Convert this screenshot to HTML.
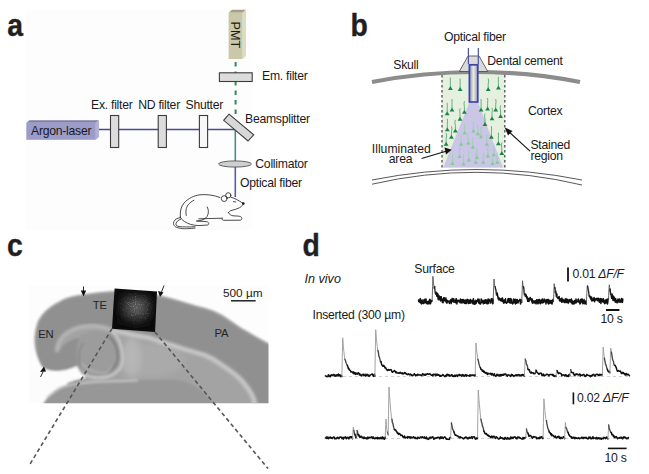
<!DOCTYPE html>
<html><head><meta charset="utf-8">
<style>
html,body{margin:0;padding:0;background:#fff;width:649px;height:474px;overflow:hidden}
svg{display:block}
text{font-family:"Liberation Sans",sans-serif;fill:#1a1a1a}
.t{font-size:12.2px;letter-spacing:-0.25px}
.lab{font-size:30.5px;font-weight:bold;fill:#231f20;stroke:#231f20;stroke-width:0.35px}
</style></head><body>
<svg width="649" height="474" viewBox="0 0 649 474">
<defs>
  <linearGradient id="fib" x1="0" x2="1" y1="0" y2="0">
    <stop offset="0" stop-color="#8a90c8"/><stop offset="0.5" stop-color="#f0ecd0"/><stop offset="1" stop-color="#8a90c8"/>
  </linearGradient>
  <radialGradient id="flu" cx="0.55" cy="0.4" r="0.55">
    <stop offset="0" stop-color="#6a6a6a"/><stop offset="0.5" stop-color="#3a3a3a"/><stop offset="1" stop-color="#0a0a0a"/>
  </radialGradient>
  <filter id="blur1"><feGaussianBlur stdDeviation="1.2"/></filter>
  <filter id="blur2"><feGaussianBlur stdDeviation="1.8"/></filter>
  <filter id="blur3"><feGaussianBlur stdDeviation="3"/></filter>
  <filter id="speck" x="0" y="0" width="1" height="1"><feTurbulence type="fractalNoise" baseFrequency="0.9" numOctaves="2" seed="4"/><feColorMatrix type="matrix" values="0 0 0 0 1  0 0 0 0 1  0 0 0 0 1  2.2 0 0 0 -1.1"/><feComposite in2="SourceGraphic" operator="in"/></filter>
  <radialGradient id="sqg" cx="0.55" cy="0.42" r="0.5"><stop offset="0" stop-color="#fff"/><stop offset="0.6" stop-color="#888"/><stop offset="1" stop-color="#000"/></radialGradient>
  <mask id="sqm" maskUnits="userSpaceOnUse" x="100" y="280" width="70" height="60"><path d="M116,291 L155,294 L153,329.5 L114,326.5 Z" fill="url(#sqg)"/></mask>
  <filter id="tex" x="0" y="0" width="1" height="1"><feTurbulence type="fractalNoise" baseFrequency="0.5 0.2" numOctaves="2" seed="8"/><feColorMatrix type="matrix" values="0 0 0 0 0.45  0 0 0 0 0.45  0 0 0 0 0.45  1.2 0 0 0 -0.45"/><feGaussianBlur stdDeviation="0.5"/></filter>
  <mask id="brainm" maskUnits="userSpaceOnUse" x="28" y="285" width="242" height="120"><path d="M82,296 C95,294 105,293 113,293 L158.3,297 C178,302 205,310 230,322 C244,331 258,339 270,346 L270,404 L215,404 C200,384 185,380 165,380 L90,381 C80,377 76,372 74,368 C62,372 50,372 43,367 C36,358 35,345 36,334 C37,318 47,306 60,302 C68,299 76,297 82,296 Z" fill="#fff"/></mask>
  <clipPath id="photo"><rect x="28.5" y="285" width="240" height="118.3"/></clipPath>
</defs>

<!-- faint backgrounds -->
<rect x="26" y="9" width="226" height="221" fill="#fdfdfd"/>

<!-- ===== Panel a ===== -->
<text class="lab" x="0" y="36" transform="translate(7.3,0) scale(0.93,1)">a</text>
<!-- laser box -->
<path d="M26.3,122.8 L29.5,120.3 L99,120.3 L95.8,122.8 Z" fill="#7e7eae"/>
<path d="M95.8,122.8 L99,120.3 L99,137 L95.8,139.8 Z" fill="#b0b0d8"/>
<rect x="26.3" y="122.8" width="69.5" height="17" fill="#9c9cca"/>
<text class="t" x="31" y="135">Argon-laser</text>
<!-- beam line -->
<line x1="99" y1="129.5" x2="235.5" y2="129.5" stroke="#4a4a9a" stroke-width="1.6"/>
<line x1="235.3" y1="129.5" x2="235.3" y2="161" stroke="#4f8a80" stroke-width="1.6"/>
<line x1="235.3" y1="166" x2="235.3" y2="197" stroke="#5a5aaa" stroke-width="1.6"/>
<!-- filters -->
<rect x="110.5" y="115.5" width="8.2" height="32" fill="#dcdcdc" stroke="#3c3c3c" stroke-width="1.1"/>
<rect x="158.2" y="115.5" width="8.2" height="32" fill="#dcdcdc" stroke="#3c3c3c" stroke-width="1.1"/>
<rect x="199.4" y="115.5" width="8.2" height="32" fill="#f8f8f8" stroke="#3c3c3c" stroke-width="1.1"/>
<text class="t" x="91" y="108.5">Ex. filter</text>
<text class="t" x="138.2" y="108.5">ND filter</text>
<text class="t" x="185.5" y="108.5">Shutter</text>
<!-- beamsplitter -->
<path d="M229,114.2 L253.7,134.8 L248,141 L223.7,120.3 Z" fill="#d8d8d8" stroke="#3c3c3c" stroke-width="1.1"/>
<text class="t" x="245" y="122.8">Beamsplitter</text>
<!-- dashed green -->
<line x1="235.6" y1="62" x2="235.6" y2="116" stroke="#2e8a5a" stroke-width="2" stroke-dasharray="4.5,5"/>
<!-- PMT -->
<path d="M228.6,12.7 L232,9.8 L246,9.8 L242.6,12.7 Z" fill="#a3a184"/>
<path d="M242.6,12.7 L246,9.8 L246,56 L242.6,59 Z" fill="#dddcc0"/>
<rect x="228.6" y="12.7" width="14" height="46.3" fill="#cac8a8"/>
<text class="t" style="font-size:12.6px;letter-spacing:0" transform="translate(230.6,21.6) rotate(90)" x="0" y="0">PMT</text>
<!-- Em filter -->
<rect x="219.4" y="72.8" width="32.8" height="8.7" fill="#dcdcdc" stroke="#3c3c3c" stroke-width="1.1"/>
<text class="t" x="262" y="79.6">Em. filter</text>
<!-- collimator -->
<ellipse cx="235" cy="164" rx="16.5" ry="3.1" fill="#cfcfcf" stroke="#555" stroke-width="0.9"/>
<text class="t" x="255.3" y="167.7">Collimator</text>
<text class="t" x="240" y="187">Optical fiber</text>
<!-- mouse -->
<g fill="none" stroke="#2a2a2a" stroke-width="0.85" stroke-linecap="round" stroke-linejoin="round">
  <path d="M180.3,217 C180,211 181,206.5 184,203 C188,198.5 194,195.5 200,194.8 C206,194.2 214,195 220,197.5"/>
  <path d="M193.9,200.3 C189,202.5 186.5,206.5 186,210 C185.8,212 185.9,214 186.2,215.5"/>
  <circle cx="224.2" cy="198.6" r="2.9"/>
  <circle cx="228.3" cy="195.3" r="2.6"/>
  <path d="M230.9,197.2 C234,198 238,200 243.2,203.4"/>
  <path d="M243,204.5 C242,206 240.5,207.5 239.5,207.7 C237,209 234.6,209.6 232,210.3 C230,210.8 229,211.5 228.4,212.7"/>
  <path d="M233.4,201.6 L235.8,202"/>
  <path d="M228.4,212.7 C229.5,214.5 231,215.5 233,215.8 C236,216 239,216 240.7,216.6 C242.3,217.5 242.3,219.5 240.5,220.2 L223.5,220.3 C222,220 221.8,219 222.3,218.2"/>
  <path d="M198.8,218.8 L222.3,218.2"/>
  <path d="M207.3,207 C208.8,210 208.9,213.5 207,216.5 C205.5,218.8 203,220 199,220.8 L196.4,221 L206.5,221.6 C208.8,222 209.5,224 207.8,225 L199,225.6 C193,225.5 188,224 184.5,221.5 C182,220 180.8,218.5 180.3,217"/>
  <path d="M180.3,217.6 C177,218 175,219.5 173.8,221.8 C172.8,224.5 174.5,227 177.9,227.8 C181,228.6 184,228.8 186.5,228.7 C190,228.6 193,228.3 195.1,228.1"/>
  <path d="M180.8,219.2 C178.3,220 176.5,221.5 176,223.5 C175.7,225.5 177,226.3 179,226.6 C183,227 189,227 195,226.8"/>
</g>
<circle cx="243.3" cy="203.5" r="1.3" fill="#111"/>

<!-- ===== Panel b ===== -->
<text class="lab" x="0" y="36" transform="translate(350.5,0) scale(0.93,1)">b</text>
<!-- stained region -->
<rect x="442" y="74" width="62.8" height="94" fill="#e6f0de"/>
<!-- cone -->
<path d="M469.3,102.4 L478,102.4 L503,167.5 L443.2,167.5 Z" fill="#c9c6e6"/>
<path d="M448.0,90.0 L450.4,86.0 L452.8,90.0Z" fill="#1a8448"/><path d="M450.4,87.0 L450.4,83.0 Q450.3,80.0 450.4,77.5" fill="none" stroke="#3a9a64" stroke-width="0.75"/>
<path d="M457.7,91.0 L460.1,87.0 L462.5,91.0Z" fill="#1a8448"/><path d="M460.1,88.0 L460.1,84.0 Q460.2,81.0 460.1,78.5" fill="none" stroke="#3a9a64" stroke-width="0.75"/>
<path d="M485.8,91.0 L488.2,87.0 L490.6,91.0Z" fill="#1a8448"/><path d="M488.2,88.0 L488.2,84.0 Q489.2,81.0 488.2,78.5" fill="none" stroke="#3a9a64" stroke-width="0.75"/>
<path d="M496.0,89.4 L498.4,85.4 L500.8,89.4Z" fill="#1a8448"/><path d="M498.4,86.4 L498.4,82.4 Q498.3,79.4 498.4,76.9" fill="none" stroke="#3a9a64" stroke-width="0.75"/>
<path d="M449.6,111.5 L452.0,107.5 L454.4,111.5Z" fill="#1a8448"/><path d="M452.0,108.5 L452.0,104.5 Q452.0,101.5 452.0,99.0" fill="none" stroke="#3a9a64" stroke-width="0.75"/>
<path d="M444.8,115.3 L447.2,111.3 L449.6,115.3Z" fill="#1a8448"/><path d="M447.2,112.3 L447.2,108.3 Q447.4,105.3 447.2,102.8" fill="none" stroke="#3a9a64" stroke-width="0.75"/>
<path d="M462.0,113.7 L464.4,109.7 L466.8,113.7Z" fill="#1a8448"/><path d="M464.4,110.7 L464.4,106.7 Q463.6,103.7 464.4,101.2" fill="none" stroke="#3a9a64" stroke-width="0.75"/>
<path d="M478.7,111.5 L481.1,107.5 L483.5,111.5Z" fill="#1a8448"/><path d="M481.1,108.5 L481.1,104.5 Q481.1,101.5 481.1,99.0" fill="none" stroke="#3a9a64" stroke-width="0.75"/>
<path d="M485.2,110.5 L487.6,106.5 L490.0,110.5Z" fill="#1a8448"/><path d="M487.6,107.5 L487.6,103.5 Q487.9,100.5 487.6,98.0" fill="none" stroke="#3a9a64" stroke-width="0.75"/>
<path d="M493.3,111.5 L495.7,107.5 L498.1,111.5Z" fill="#1a8448"/><path d="M495.7,108.5 L495.7,104.5 Q496.4,101.5 495.7,99.0" fill="none" stroke="#3a9a64" stroke-width="0.75"/>
<path d="M498.2,118.0 L500.6,114.0 L503.0,118.0Z" fill="#1a8448"/><path d="M500.6,115.0 L500.6,111.0 Q499.6,108.0 500.6,105.5" fill="none" stroke="#3a9a64" stroke-width="0.75"/>
<path d="M457.6,120.8 L460.0,116.8 L462.4,120.8Z" fill="#1a8448"/><path d="M460.0,117.8 L460.0,113.8 Q459.5,110.8 460.0,108.3" fill="none" stroke="#3a9a64" stroke-width="0.75"/>
<path d="M482.6,126.0 L485.0,122.0 L487.4,126.0Z" fill="#1a8448"/><path d="M485.0,123.0 L485.0,119.0 Q484.0,116.0 485.0,113.5" fill="none" stroke="#3a9a64" stroke-width="0.75"/>
<path d="M489.6,120.2 L492.0,116.2 L494.4,120.2Z" fill="#1a8448"/><path d="M492.0,117.2 L492.0,113.2 Q492.7,110.2 492.0,107.7" fill="none" stroke="#3a9a64" stroke-width="0.75"/>
<path d="M444.9,131.3 L447.3,127.3 L449.7,131.3Z" fill="#1a8448"/><path d="M447.3,128.3 L447.3,124.3 Q447.8,121.3 447.3,118.8" fill="none" stroke="#3a9a64" stroke-width="0.75"/>
<path d="M453.0,132.4 L455.4,128.4 L457.8,132.4Z" fill="#1a8448"/><path d="M455.4,129.4 L455.4,125.4 Q454.3,122.4 455.4,119.9" fill="none" stroke="#3a9a64" stroke-width="0.75"/>
<path d="M449.0,138.8 L451.4,134.8 L453.8,138.8Z" fill="#1a8448"/><path d="M451.4,135.8 L451.4,131.8 Q452.6,128.8 451.4,126.3" fill="none" stroke="#3a9a64" stroke-width="0.75"/>
<path d="M443.7,145.8 L446.1,141.8 L448.5,145.8Z" fill="#1a8448"/><path d="M446.1,142.8 L446.1,138.8 Q447.2,135.8 446.1,133.3" fill="none" stroke="#3a9a64" stroke-width="0.75"/>
<path d="M489.0,138.8 L491.4,134.8 L493.8,138.8Z" fill="#1a8448"/><path d="M491.4,135.8 L491.4,131.8 Q491.8,128.8 491.4,126.3" fill="none" stroke="#3a9a64" stroke-width="0.75"/>
<path d="M496.0,145.2 L498.4,141.2 L500.8,145.2Z" fill="#1a8448"/><path d="M498.4,142.2 L498.4,138.2 Q498.7,135.2 498.4,132.7" fill="none" stroke="#3a9a64" stroke-width="0.75"/>
<path d="M499.4,155.0 L501.8,151.0 L504.2,155.0Z" fill="#1a8448"/><path d="M501.8,152.0 L501.8,148.0 Q501.0,145.0 501.8,142.5" fill="none" stroke="#3a9a64" stroke-width="0.75"/>
<path d="M462.6,134.2 L464.7,130.6 L466.8,134.2Z" fill="#84ca92"/><path d="M464.7,131.2 L464.7,127.2 Q463.5,125.2 464.7,123.2" fill="none" stroke="#96d0a2" stroke-width="0.7"/>
<path d="M471.3,132.4 L473.4,128.8 L475.5,132.4Z" fill="#84ca92"/><path d="M473.4,129.4 L473.4,125.4 Q473.5,123.4 473.4,121.4" fill="none" stroke="#96d0a2" stroke-width="0.7"/>
<path d="M475.9,135.3 L478.0,131.7 L480.1,135.3Z" fill="#84ca92"/><path d="M478.0,132.3 L478.0,128.3 Q476.9,126.3 478.0,124.3" fill="none" stroke="#96d0a2" stroke-width="0.7"/>
<path d="M478.9,138.2 L481.0,134.6 L483.1,138.2Z" fill="#84ca92"/><path d="M481.0,135.2 L481.0,131.2 Q480.3,129.2 481.0,127.2" fill="none" stroke="#96d0a2" stroke-width="0.7"/>
<path d="M459.1,145.8 L461.2,142.2 L463.3,145.8Z" fill="#84ca92"/><path d="M461.2,142.8 L461.2,138.8 Q460.6,136.8 461.2,134.8" fill="none" stroke="#96d0a2" stroke-width="0.7"/>
<path d="M466.1,144.6 L468.2,141.0 L470.3,144.6Z" fill="#84ca92"/><path d="M468.2,141.6 L468.2,137.6 Q467.1,135.6 468.2,133.6" fill="none" stroke="#96d0a2" stroke-width="0.7"/>
<path d="M470.7,148.7 L472.8,145.1 L474.9,148.7Z" fill="#84ca92"/><path d="M472.8,145.7 L472.8,141.7 Q472.7,139.7 472.8,137.7" fill="none" stroke="#96d0a2" stroke-width="0.7"/>
<path d="M484.7,145.8 L486.8,142.2 L488.9,145.8Z" fill="#84ca92"/><path d="M486.8,142.8 L486.8,138.8 Q486.7,136.8 486.8,134.8" fill="none" stroke="#96d0a2" stroke-width="0.7"/>
<path d="M457.4,158.0 L459.5,154.4 L461.6,158.0Z" fill="#84ca92"/><path d="M459.5,155.0 L459.5,151.0 Q460.3,149.0 459.5,147.0" fill="none" stroke="#96d0a2" stroke-width="0.7"/>
<path d="M466.7,161.4 L468.8,157.8 L470.9,161.4Z" fill="#84ca92"/><path d="M468.8,158.4 L468.8,154.4 Q468.8,152.4 468.8,150.4" fill="none" stroke="#96d0a2" stroke-width="0.7"/>
<path d="M474.8,159.1 L476.9,155.5 L479.0,159.1Z" fill="#84ca92"/><path d="M476.9,156.1 L476.9,152.1 Q477.2,150.1 476.9,148.1" fill="none" stroke="#96d0a2" stroke-width="0.7"/>
<path d="M485.8,157.4 L487.9,153.8 L490.0,157.4Z" fill="#84ca92"/><path d="M487.9,154.4 L487.9,150.4 Q487.9,148.4 487.9,146.4" fill="none" stroke="#96d0a2" stroke-width="0.7"/>
<path d="M491.6,156.2 L493.7,152.6 L495.8,156.2Z" fill="#84ca92"/><path d="M493.7,153.2 L493.7,149.2 Q494.1,147.2 493.7,145.2" fill="none" stroke="#96d0a2" stroke-width="0.7"/>
<path d="M450.4,164.9 L452.5,161.3 L454.6,164.9Z" fill="#84ca92"/><path d="M452.5,161.9 L452.5,157.9 Q452.4,155.9 452.5,153.9" fill="none" stroke="#96d0a2" stroke-width="0.7"/>
<path d="M461.4,165.5 L463.5,161.9 L465.6,165.5Z" fill="#84ca92"/><path d="M463.5,162.5 L463.5,158.5 Q463.0,156.5 463.5,154.5" fill="none" stroke="#96d0a2" stroke-width="0.7"/>
<path d="M473.6,163.8 L475.7,160.2 L477.8,163.8Z" fill="#84ca92"/><path d="M475.7,160.8 L475.7,156.8 Q476.9,154.8 475.7,152.8" fill="none" stroke="#96d0a2" stroke-width="0.7"/>
<path d="M481.2,163.8 L483.3,160.2 L485.4,163.8Z" fill="#84ca92"/><path d="M483.3,160.8 L483.3,156.8 Q484.5,154.8 483.3,152.8" fill="none" stroke="#96d0a2" stroke-width="0.7"/>
<path d="M490.5,164.9 L492.6,161.3 L494.7,164.9Z" fill="#84ca92"/><path d="M492.6,161.9 L492.6,157.9 Q493.4,155.9 492.6,153.9" fill="none" stroke="#96d0a2" stroke-width="0.7"/>
<path d="M495.1,163.8 L497.2,160.2 L499.3,163.8Z" fill="#84ca92"/><path d="M497.2,160.8 L497.2,156.8 Q497.7,154.8 497.2,152.8" fill="none" stroke="#96d0a2" stroke-width="0.7"/>
<line x1="442" y1="75" x2="442" y2="168" stroke="#5a5a5a" stroke-width="1.4" stroke-dasharray="2.5,2.5"/>
<line x1="504.8" y1="75" x2="504.8" y2="168" stroke="#5a5a5a" stroke-width="1.4" stroke-dasharray="2.5,2.5"/>
<!-- skull -->
<path d="M372,82 Q476,62 580,82" fill="none" stroke="#8c8c8c" stroke-width="4.2"/>
<!-- dental cement -->
<path d="M468,56 L479,56 L487.8,71.5 L459.3,71.5 Z" fill="#dadada" stroke="#444" stroke-width="0.8"/>
<!-- fiber -->
<line x1="468.4" y1="48" x2="468.4" y2="64" stroke="#4a50a8" stroke-width="1.2"/>
<line x1="478.3" y1="48" x2="478.3" y2="64" stroke="#4a50a8" stroke-width="1.2"/>
<rect x="469.4" y="64.8" width="8.4" height="37.2" fill="url(#fib)" stroke="#3a46a6" stroke-width="1.7"/>
<!-- bottom curves -->
<path d="M372,180 Q477,159 582,180" fill="none" stroke="#444" stroke-width="0.9"/>
<path d="M372,184.2 Q477,160 582,185" fill="none" stroke="#444" stroke-width="0.9"/>
<text class="t" x="393.3" y="68.9">Skull</text>
<text class="t" x="444" y="40.6">Optical fiber</text>
<text class="t" x="487.3" y="65.4">Dental cement</text>
<text class="t" x="528" y="114.8">Cortex</text>
<text class="t" x="530.4" y="148.8">Stained</text>
<text class="t" x="530.4" y="159.9">region</text>
<text class="t" style="letter-spacing:0" x="371.8" y="152.8">Illuminated</text>
<text class="t" x="388.8" y="162.7">area</text>
<!-- arrows -->
<line x1="530" y1="151.2" x2="508" y2="131" stroke="#111" stroke-width="1.1"/>
<path d="M504.7,127.4 L512.5,131 L508,135.5 Z" fill="#111"/>
<line x1="421.6" y1="158.5" x2="446" y2="151.2" stroke="#111" stroke-width="1.1"/>
<path d="M451.7,149.7 L444.5,147.5 L446,154.5 Z" fill="#111"/>

<!-- ===== Panel c ===== -->
<text class="lab" x="0" y="256.3" transform="translate(7,0) scale(0.93,1)">c</text>
<g clip-path="url(#photo)">
  <rect x="28.5" y="285" width="240" height="118.3" fill="#fdfdfd"/>
  <g filter="url(#blur1)">
  <!-- cortex -->
  <path d="M82,295.6 C95,293.5 105,292.5 113,292 L158.3,295.9 C168,298 178,301 186.6,303.6 C196,306.5 205,309 212.4,311.3 C219,314 225,317.5 230.4,321.6 C237,326.5 244,331 251,334.5 C257,338 263,341.5 272,346 L272,406 L60,406 L72,369 C62,371.5 50,372 42.8,367.7 C37,358 35,350 34.8,340 C34.5,334 35.5,328 38.8,321.3 C43,313 52,306 60.4,301.9 C66,298.5 74,296.5 82,295.6 Z" fill="#909090"/>
  <path d="M37,352 C35,345 34.5,334 38.8,321.3 C43,313 52,306 60.4,301.9 C66,298.5 74,296.5 82,295.6 C95,293.5 105,292.5 113,292 L158.3,295.9 C168,298 178,301 186.6,303.6 C196,306.5 205,309 212.4,311.3 C219,314 225,317.5 230.4,321.6 C237,326.5 244,331 251,334.5 C257,338 263,341.5 272,346" fill="none" stroke="#9e9e9e" stroke-width="2"/>
  <!-- interior -->
  <path d="M57,352 C57,344 61,337 67,333 C73,329 81,326 89.5,325.9 C97,325.6 104,327 111.6,330 C125,333 138,336 150,337.8 C156,340 162,342.5 168.5,344.2 C175,346 181,348 187,349.8 C193,351.5 199,353.3 205.5,355.3 C212,358 218,361.5 224,366.4 C231,371 237,375.5 242.4,381.2 C246,385.5 249,389.5 251.7,394.2 C253.5,397.5 254.5,400.5 255.4,406 L84,406 L80,372 C77,362 77,348 80,338 C74,338 66,342 62,347 C60,349 58,351 57,352 Z" fill="#a3a3a3"/>
  <ellipse cx="150" cy="360" rx="35" ry="16" fill="#aaaaaa" filter="url(#blur3)"/>
  <!-- hippocampus -->
  <path d="M80.8,335 C95,329 108,330 116,337 C122,344 123,357 120.5,366 C117,374 106,377 95,376.5 C86,376 79,372 77.5,364 C76,356 76,342 80.8,335 Z" fill="#9c9c9c"/>
  <ellipse cx="132" cy="357" rx="9" ry="20" fill="#b6b6b6" filter="url(#blur3)"/>
  <path d="M111.6,330.3 C118,336 122,346 122.5,357 C123,366 118,373 108.7,376.5 C100,378.5 90,378 84,374" fill="none" stroke="#c2c2c2" stroke-width="3"/>
  <path d="M109,336 C115,342 118,350 117.8,357 C117.5,364 114,369 108,372" fill="none" stroke="#7a7a7a" stroke-width="2"/>
  <path d="M82,362.8 C85,369 95,373 104.3,373 C108,373 110,370 111.7,367" fill="none" stroke="#b2b2b2" stroke-width="1.5"/>
  <path d="M80,366 C78,358 79,350 83,343" fill="none" stroke="#858585" stroke-width="1.5"/>
  <!-- white gap under C -->
  <path d="M28,373 C36,372 40,370 42.8,367.7 C47,371 52,372 55.7,371.6 C62,371.5 70,369 77,366 C79,371 82,375 86,377.5 C75,380 67,382.5 60,386 C52,390 46,396 42,406 L28,406 Z" fill="#fcfcfc"/>
  <!-- lower mass -->
  <path d="M42,406 C46,398 52,391 60,387 C70,383.5 80,382.3 95,381.8 C120,381 140,380 165,379.5 C185,379 200,384 215,406 Z" fill="#979797"/>
  <path d="M47,398 C53,392 58,389 64,386.5 C72,384 82,382.5 100,381.8 C115,381.3 125,381 138,380.5" fill="none" stroke="#c2c2c2" stroke-width="2"/>
  </g>
  <!-- white matter band -->
  <path d="M57,352 C57,344 61,337 67,333 C73,329 81,326 89.5,325.9 C97,325.6 104,327 111.6,330" fill="none" stroke="#b6b6b6" stroke-width="4" filter="url(#blur2)"/>
  <path d="M111.6,330 C125,333 138,336 150,337.8 C156,340 162,342.5 168.5,344.2 C175,346 181,348 187,349.8 C193,351.5 199,353.3 205.5,355.3 C212,358 218,361.5 224,366.4 C231,371 237,375.5 242.4,381.2 C246,385.5 249,389.5 251.7,394.2 C253.5,397.5 254.5,400.5 255.4,406" fill="none" stroke="#c8c8c8" stroke-width="4.5" filter="url(#blur2)"/>
</g>
<!-- fluorescence square -->
<path d="M114.6,288.6 L157,291.6 L155,331.9 L112,328.7 Z" fill="#0c0c0c"/>
<path d="M119,294 L152,296.5 L150.5,327 L117,324.5 Z" fill="url(#flu)" filter="url(#blur3)"/>
<path d="M116,291 L155,294 L153,329.5 L114,326.5 Z" fill="#fff" filter="url(#speck)" opacity="0.4" mask="url(#sqm)"/>
<!-- arrows on brain -->
<line x1="83.5" y1="286.5" x2="83.5" y2="292" stroke="#111" stroke-width="0.9"/>
<path d="M80.8,290.5 L86.2,290.5 L83.5,296.4 Z" fill="#111"/>
<line x1="164" y1="285.5" x2="161.5" y2="292" stroke="#111" stroke-width="0.9"/>
<path d="M158,291 L163.5,292.5 L160,297 Z" fill="#111"/>
<line x1="40.5" y1="377" x2="43" y2="372" stroke="#111" stroke-width="0.9"/>
<path d="M40,372 L46,371.5 L44,366.5 Z" fill="#111"/>
<text class="t" style="font-size:11.3px;fill:#262626" x="38.2" y="338">EN</text>
<text class="t" style="font-size:11.3px;fill:#262626" x="92.8" y="308.8">TE</text>
<text class="t" style="font-size:11.3px;fill:#262626" x="214.6" y="337">PA</text>
<text class="t" style="font-size:11.8px;letter-spacing:0" x="223" y="297">500 µm</text>
<line x1="231" y1="300.8" x2="255.6" y2="300.8" stroke="#111" stroke-width="1.4"/>
<!-- dashed projection lines -->
<line x1="112" y1="328.7" x2="28.7" y2="466.3" stroke="#555" stroke-width="1.6" stroke-dasharray="4,3"/>
<line x1="155" y1="332" x2="268" y2="468.6" stroke="#555" stroke-width="1.6" stroke-dasharray="4,3"/>

<!-- ===== Panel d ===== -->
<text class="lab" x="0" y="256" transform="translate(302.5,0) scale(0.93,1)">d</text>
<text class="t" style="font-style:italic;font-size:12.6px;letter-spacing:0" x="304.5" y="282.5">In vivo</text>
<text class="t" x="414.3" y="272.9">Surface</text>
<text class="t" x="312.5" y="318.8">Inserted (300 µm)</text>
<line x1="568" y1="267.6" x2="568" y2="281.4" stroke="#111" stroke-width="1.8"/>
<text class="t" x="572.5" y="278">0.01 <tspan style="font-style:italic">ΔF/F</tspan></text>
<line x1="606" y1="310" x2="619.4" y2="310" stroke="#111" stroke-width="2"/>
<text class="t" x="600.5" y="322.7">10 s</text>
<line x1="573.4" y1="392.4" x2="573.4" y2="404.3" stroke="#111" stroke-width="1.6"/>
<text class="t" x="577.1" y="402">0.02 <tspan style="font-style:italic">ΔF/F</tspan></text>
<line x1="607.9" y1="448.4" x2="626.6" y2="448.4" stroke="#111" stroke-width="1.6"/>
<text class="t" x="604.5" y="462.2">10 s</text>
<polyline points="418.5,300.1 418.8,301.6 419.1,300.8 419.4,302.0 419.7,302.2 420.0,299.2 420.3,298.6 420.6,303.0 420.9,300.4 421.2,300.0 421.5,304.0 421.8,301.6 422.1,303.3 422.4,301.6 422.7,302.3 423.0,299.7 423.3,302.0 423.6,303.5 423.9,301.8 424.2,302.8 424.5,302.6 424.8,299.3 425.1,302.7 425.4,302.1 425.7,300.5 426.0,298.9 426.3,303.2 426.6,301.5 426.9,302.7 427.2,303.7 427.5,302.9 427.8,303.9 428.1,301.2 428.4,303.1 428.7,301.4 429.0,303.8 429.3,303.8 429.6,299.6 429.9,299.3 430.2,299.8 430.5,303.8 430.8,301.4 431.1,302.2 431.4,300.5 431.7,301.4 432.0,300.9 432.1,300.6" fill="none" stroke="#111" stroke-width="1.50" stroke-linejoin="round" stroke-linecap="round"/>
<polyline points="432.1,300.6 432.3,295.6 432.6,286.2 432.9,276.3 433.2,280.1 433.5,283.7 433.8,285.4 434.1,288.0" fill="none" stroke="#555" stroke-width="0.90" stroke-linejoin="round" stroke-linecap="round"/>
<polyline points="434.1,288.0 434.4,287.9 434.7,286.4 435.0,291.2 435.3,293.2 435.6,294.0 435.9,293.0 436.2,294.4 436.5,292.5" fill="none" stroke="#222" stroke-width="1.35" stroke-linejoin="round" stroke-linecap="round"/>
<polyline points="436.5,292.5 436.8,296.2 437.1,295.7 437.4,294.5 437.7,293.6 438.0,298.2 438.3,299.7 438.6,295.3 438.9,299.0 439.2,297.5 439.5,296.2 439.8,297.0 440.1,299.9 440.4,300.9 440.7,296.7 441.0,299.5 441.3,296.8 441.6,300.3 441.9,298.7 442.2,301.6 442.5,302.5 442.8,300.2 443.1,302.7 443.4,299.3 443.7,297.8 444.0,300.5 444.3,297.8 444.6,298.5 444.9,299.7 445.2,301.0 445.5,298.7 445.8,297.9 446.1,302.3 446.4,299.8 446.7,303.1 447.0,303.1 447.3,300.4 447.6,300.6 447.9,300.9 448.2,301.7 448.5,301.5 448.8,301.3 449.1,301.7 449.4,303.5 449.7,301.3 450.0,300.7 450.3,302.2 450.6,299.8 450.9,299.9 451.2,303.6 451.5,301.5 451.8,301.5 452.1,298.6 452.4,300.5 452.7,301.6 453.0,298.7 453.3,301.6 453.6,302.0 453.9,299.0 454.2,301.7 454.5,301.2 454.8,302.3 455.1,300.6 455.4,302.4 455.7,302.7 456.0,298.9 456.3,298.7 456.6,302.0 456.9,303.9 457.2,300.3 457.5,301.0 457.8,301.8 458.1,300.5 458.4,300.6 458.7,300.3 459.0,300.6 459.3,301.8 459.6,300.4 459.9,300.6 460.2,302.8 460.5,299.0 460.8,301.6 461.1,302.7 461.4,300.5 461.7,299.8 462.0,302.9 462.3,300.2 462.6,299.6 462.9,300.9 463.2,302.5 463.5,299.4 463.8,300.3 464.1,300.4 464.4,303.2 464.7,301.3 465.0,303.4 465.3,299.9 465.6,300.4 465.9,302.2 466.2,303.6 466.5,301.4 466.8,300.0 467.1,299.3 467.4,301.4 467.7,299.8 468.0,303.0 468.3,303.5 468.6,300.0 468.9,300.1 469.2,303.0 469.5,302.4 469.8,303.2 470.1,300.8 470.4,299.4 470.7,300.2 471.0,302.9 471.3,300.4 471.6,300.5 471.9,300.9 472.2,301.0 472.5,301.0 472.8,303.7 473.1,299.9 473.4,298.7 473.7,303.6 474.0,303.8 474.3,304.3 474.6,301.4 474.9,303.9 475.2,304.0 475.5,300.2 475.8,302.7 476.1,303.4 476.4,302.6 476.7,301.7 477.0,300.4 477.3,300.5 477.6,299.9 477.9,299.0 478.2,301.7 478.5,300.4 478.8,303.1 479.1,299.2 479.4,303.4 479.7,302.7 480.0,303.9 480.3,303.9 480.6,303.9 480.9,302.2 481.2,298.9 481.5,302.6 481.8,299.8 482.1,300.3 482.4,302.3 482.7,301.7 483.0,301.1 483.3,303.8 483.6,302.3 483.9,300.7 484.2,300.1 484.5,303.3 484.8,301.6 485.1,303.0 485.4,300.9 485.7,299.8 486.0,301.5 486.3,303.2 486.6,299.9 486.9,302.9 487.2,303.9 487.5,303.4 487.8,303.4 488.1,299.0 488.4,301.9 488.7,303.5 489.0,299.3 489.3,300.0 489.6,300.1 489.9,301.5 490.2,301.1 490.5,301.3 490.8,303.0 491.1,299.0 491.4,298.8 491.7,299.2 492.0,299.2 492.3,298.9 492.6,303.8 492.9,303.6 493.2,299.5" fill="none" stroke="#111" stroke-width="1.50" stroke-linejoin="round" stroke-linecap="round"/>
<polyline points="493.2,299.5 493.5,292.9 493.8,283.6 494.0,279.0 494.1,279.1 494.4,283.5 494.7,285.7 495.0,286.5" fill="none" stroke="#555" stroke-width="0.90" stroke-linejoin="round" stroke-linecap="round"/>
<polyline points="495.0,286.5 495.3,287.2 495.6,289.4 495.9,289.6 496.2,293.0 496.5,295.1 496.8,294.2 497.1,293.1" fill="none" stroke="#222" stroke-width="1.35" stroke-linejoin="round" stroke-linecap="round"/>
<polyline points="497.1,293.1 497.4,294.1 497.7,295.8 498.0,297.6 498.3,299.1 498.6,297.5 498.9,299.9 499.2,299.4 499.5,298.5 499.8,298.3 500.1,299.2 500.4,300.5 500.7,299.3 501.0,300.8 501.3,299.8 501.6,298.6 501.9,300.2 502.2,301.3 502.5,298.1 502.8,299.8 503.1,300.0 503.4,302.6 503.7,303.2 504.0,300.3 504.3,302.8 504.6,302.6 504.9,299.7 505.2,300.6 505.5,298.8 505.8,302.4 506.1,302.0 506.4,303.2 506.7,302.8 507.0,302.2 507.3,302.5 507.6,301.6 507.9,299.0 508.2,301.4 508.5,298.5 508.8,299.0 509.1,302.5 509.4,298.9 509.7,298.8 510.0,298.9 510.3,303.1 510.6,299.7 510.9,298.6 511.2,302.9 511.5,299.4 511.8,303.0 512.1,302.5 512.4,303.3 512.7,304.0 513.0,302.1 513.3,303.1 513.6,299.1 513.9,302.6 514.2,301.6 514.5,302.6 514.8,299.4 515.1,302.6 515.4,303.9 515.7,299.3 516.0,300.3 516.3,301.7 516.6,303.2 516.9,300.2 517.2,299.6 517.5,299.9 517.8,301.9 518.1,302.9 518.4,301.0 518.7,300.7 519.0,300.8 519.3,300.6 519.6,300.9 519.9,299.2 520.2,301.2 520.5,304.0 520.8,301.3 521.1,302.8 521.4,299.8 521.7,302.3" fill="none" stroke="#111" stroke-width="1.50" stroke-linejoin="round" stroke-linecap="round"/>
<polyline points="521.7,302.3 522.0,295.1 522.3,287.0 522.5,280.7 522.6,281.6 522.9,285.0 523.2,288.6 523.5,286.6" fill="none" stroke="#555" stroke-width="0.90" stroke-linejoin="round" stroke-linecap="round"/>
<polyline points="523.5,286.6 523.8,287.6 524.1,292.4 524.4,294.9 524.7,293.9 525.0,294.2 525.3,296.4 525.6,294.3" fill="none" stroke="#222" stroke-width="1.35" stroke-linejoin="round" stroke-linecap="round"/>
<polyline points="525.6,294.3 525.9,295.1 526.2,295.2 526.5,297.8 526.8,296.9 527.1,296.7 527.4,299.4 527.7,301.3 528.0,298.2 528.3,300.3 528.6,299.1 528.9,301.5 529.2,300.4 529.5,298.7 529.8,298.4 530.1,297.4 530.4,299.8 530.7,299.7 531.0,298.6 531.3,299.5 531.6,299.5 531.9,302.0 532.2,298.9 532.5,303.2 532.8,300.9 533.1,301.4 533.4,300.8 533.7,302.7 534.0,302.9 534.3,301.5 534.6,301.0 534.9,302.2 535.2,303.1 535.5,300.8 535.8,302.4 536.1,303.8 536.4,301.3 536.7,299.7 537.0,299.6 537.3,302.2 537.6,302.3 537.9,303.8 538.2,303.4 538.5,300.1 538.8,299.5 539.1,299.8 539.4,299.5 539.7,302.3 540.0,303.4 540.3,303.7 540.6,300.3 540.9,303.2 541.2,300.6 541.5,300.9 541.8,302.6 542.1,299.3 542.4,299.0 542.7,303.0 543.0,300.4 543.3,300.5 543.6,301.8 543.9,302.4 544.2,298.9 544.5,300.3 544.8,301.0 545.1,301.3 545.4,299.9 545.7,301.8 546.0,303.9 546.3,301.1 546.6,301.7 546.9,299.4 547.2,300.0 547.5,302.2 547.8,299.4 548.1,303.4 548.4,303.9 548.7,299.5 549.0,303.7 549.3,301.0 549.6,302.9 549.9,303.0 550.2,300.5 550.5,302.3 550.8,302.4 551.1,303.2 551.4,300.4 551.7,302.7 552.0,304.1 552.3,302.7 552.6,301.8 552.9,299.4 553.2,301.3 553.4,300.7" fill="none" stroke="#111" stroke-width="1.50" stroke-linejoin="round" stroke-linecap="round"/>
<polyline points="553.4,300.7 553.5,300.4 553.8,293.7 554.1,286.4 554.2,283.7 554.4,285.9 554.7,288.1" fill="none" stroke="#555" stroke-width="0.90" stroke-linejoin="round" stroke-linecap="round"/>
<polyline points="554.7,288.1 555.0,287.5 555.3,292.6 555.6,293.0 555.9,291.2 556.2,296.3 556.5,293.2 556.8,294.6" fill="none" stroke="#222" stroke-width="1.35" stroke-linejoin="round" stroke-linecap="round"/>
<polyline points="556.8,294.6 557.1,297.4 557.4,297.5 557.7,297.7 558.0,298.6 558.3,298.0 558.6,297.5 558.9,296.9 559.2,296.5 559.5,300.2 559.8,300.9 560.1,300.0 560.4,301.1 560.7,299.3 561.0,298.7 561.3,299.4 561.6,302.2 561.9,298.1 562.2,300.2 562.5,299.1 562.8,301.9 563.1,300.0 563.4,299.7 563.7,300.1 564.0,301.0 564.3,302.3 564.6,300.3 564.9,302.7 565.2,299.1 565.5,299.6 565.8,298.7 566.1,298.7 566.4,302.4 566.7,302.5 567.0,299.6 567.3,299.3 567.6,300.6 567.9,302.5 568.2,303.1 568.5,302.8 568.8,301.9 569.1,299.4 569.4,300.6 569.7,299.6 570.0,301.3 570.3,301.7 570.6,299.8 570.9,299.8 571.2,302.7 571.5,299.0 571.8,302.8 572.1,303.6 572.4,304.0 572.7,301.0 573.0,301.6 573.3,301.9 573.6,302.2 573.9,304.1 574.2,302.7 574.5,300.5 574.8,303.3 575.1,301.5 575.4,302.0 575.7,302.7 576.0,298.9 576.3,302.7 576.6,302.4 576.9,301.5 577.2,301.6 577.5,301.3 577.8,299.8 578.1,301.5 578.4,299.0 578.7,301.2 579.0,302.2 579.3,301.2 579.6,301.8 579.9,304.0 580.2,303.8 580.5,299.7 580.8,302.9 581.1,302.3 581.4,299.1 581.7,300.5 582.0,299.9 582.3,299.1 582.6,301.5 582.9,303.8 583.2,300.8 583.5,303.4 583.8,302.7 584.1,299.6 584.4,303.2 584.7,302.2 585.0,303.9 585.3,302.9 585.6,302.9 585.9,300.8 586.2,303.1 586.4,304.0" fill="none" stroke="#111" stroke-width="1.50" stroke-linejoin="round" stroke-linecap="round"/>
<polyline points="586.4,304.0 586.5,301.8 586.8,293.6 587.1,289.3 587.2,286.0 587.4,285.3 587.7,286.5" fill="none" stroke="#555" stroke-width="0.90" stroke-linejoin="round" stroke-linecap="round"/>
<polyline points="587.7,286.5 588.0,288.2 588.3,290.2 588.6,291.2 588.9,294.0 589.2,296.1 589.5,296.1" fill="none" stroke="#222" stroke-width="1.35" stroke-linejoin="round" stroke-linecap="round"/>
<polyline points="589.5,296.1 589.8,296.1 590.1,297.8 590.4,296.5 590.7,297.6 591.0,299.6 591.3,298.2 591.6,297.1 591.9,301.1 592.2,300.7 592.5,299.0 592.8,299.0 593.1,300.0 593.4,300.5 593.7,298.7 594.0,297.4 594.3,298.5 594.6,301.8 594.9,298.7 595.2,300.2 595.5,299.0 595.8,299.0 596.1,298.8 596.4,300.1 596.7,299.0 597.0,298.2 597.3,298.6 597.6,298.9 597.9,300.8 598.2,298.6 598.5,298.3 598.8,300.5 599.1,300.6 599.4,302.2 599.7,298.9 600.0,300.4 600.3,300.6 600.6,298.6 600.9,303.5 601.2,300.0 601.5,299.0 601.8,300.9 602.1,299.5 602.4,301.8 602.7,300.5 603.0,299.2 603.3,298.7 603.6,302.3 603.9,300.2 604.2,302.8 604.5,301.3 604.8,303.7 605.1,300.5 605.4,300.0 605.7,300.0 606.0,303.0 606.3,302.3 606.6,300.7 606.9,299.2 607.2,302.2 607.5,304.0 607.8,302.2 608.1,298.8 608.4,298.6 608.5,299.0" fill="none" stroke="#111" stroke-width="1.50" stroke-linejoin="round" stroke-linecap="round"/>
<polyline points="608.5,299.0 608.7,295.2 609.0,288.3 609.3,284.8 609.6,287.5 609.9,291.0" fill="none" stroke="#555" stroke-width="0.90" stroke-linejoin="round" stroke-linecap="round"/>
<polyline points="609.9,291.0 610.2,289.0 610.5,294.2 610.8,293.0 611.1,295.6 611.4,297.2 611.7,298.2" fill="none" stroke="#222" stroke-width="1.35" stroke-linejoin="round" stroke-linecap="round"/>
<polyline points="611.7,298.2 612.0,294.0 612.3,295.5 612.6,297.8 612.9,300.2 613.2,296.1 613.5,297.1 613.8,300.5 614.1,297.1 614.4,298.5 614.7,298.5 615.0,300.5 615.3,302.2 615.6,298.4 615.9,301.2 616.2,301.5 616.5,302.2 616.8,300.8 617.1,302.8 617.4,300.0 617.7,300.1 618.0,299.1 618.3,302.1 618.6,300.8 618.9,299.6 619.2,299.0 619.5,301.9 619.8,301.6 620.1,302.2 620.4,300.5 620.7,300.9 621.0,299.2 621.3,302.1 621.6,298.6 621.9,300.7 622.2,302.5 622.5,302.3 622.8,299.1" fill="none" stroke="#111" stroke-width="1.50" stroke-linejoin="round" stroke-linecap="round"/>
<line x1="325" y1="376.5" x2="630" y2="376.5" stroke="#c4c4c4" stroke-width="0.8" stroke-dasharray="3,3"/>
<polyline points="325.4,375.8 325.9,376.1 326.4,376.3 326.9,376.7 327.4,376.4 327.9,376.7 328.4,374.8 328.9,375.2 329.4,376.4 329.9,376.1 330.4,376.6 330.9,375.0 331.4,375.3 331.9,374.9 332.4,375.4 332.9,375.6 333.4,374.5 333.9,374.6 334.4,374.7 334.9,376.2 335.4,376.3 335.9,375.0 336.4,376.0 336.9,374.8 337.4,375.6 337.9,374.7 338.4,374.1 338.9,375.9 339.4,375.0 339.9,374.7 340.4,376.3 340.9,376.6 341.4,375.4 341.9,376.5" fill="none" stroke="#111" stroke-width="1.50" stroke-linejoin="round" stroke-linecap="round"/>
<polyline points="341.9,376.5 342.4,352.3 342.7,337.8 342.9,340.0 343.4,347.1 343.9,351.7 344.4,356.1 344.9,359.2" fill="none" stroke="#9a9a9a" stroke-width="0.90" stroke-linejoin="round" stroke-linecap="round"/>
<polyline points="344.9,359.2 345.4,360.4 345.9,362.2 346.4,363.5 346.9,364.7 347.4,365.6" fill="none" stroke="#444" stroke-width="1.35" stroke-linejoin="round" stroke-linecap="round"/>
<polyline points="347.4,365.6 347.9,367.1 348.4,368.7 348.9,368.4 349.4,370.1 349.9,370.3 350.4,370.5 350.9,372.0 351.4,371.9 351.9,371.7 352.4,372.2 352.9,373.0 353.4,371.9 353.9,373.8 354.4,372.4 354.9,373.6 355.4,374.4 355.9,372.8 356.4,374.1 356.9,373.7 357.4,374.1 357.9,373.0 358.4,372.8 358.9,373.1 359.4,375.0 359.9,373.9 360.4,374.9 360.9,375.6 361.4,375.9 361.9,374.7 362.4,374.4 362.9,374.7 363.4,375.4 363.9,374.1 364.4,375.2 364.9,375.7 365.4,376.0 365.9,374.3 366.4,375.8 366.9,374.4 367.4,374.5 367.9,375.2 368.4,376.1 368.9,375.1 369.4,376.1 369.9,375.6 370.4,374.9 370.9,374.7 371.4,374.4 371.9,374.0 372.4,374.1 372.9,375.4 373.4,376.4 373.9,374.9 374.4,374.2 374.9,376.1" fill="none" stroke="#111" stroke-width="1.50" stroke-linejoin="round" stroke-linecap="round"/>
<polyline points="374.9,376.1 375.4,347.1 375.7,329.7 375.9,331.8 376.4,338.3 376.9,343.9 377.4,347.4 377.9,350.5" fill="none" stroke="#9a9a9a" stroke-width="0.90" stroke-linejoin="round" stroke-linecap="round"/>
<polyline points="377.9,350.5 378.4,352.4 378.9,356.4 379.4,356.9 379.9,359.2 380.4,361.6 380.9,361.5" fill="none" stroke="#444" stroke-width="1.35" stroke-linejoin="round" stroke-linecap="round"/>
<polyline points="380.9,361.5 381.4,363.5 381.9,365.1 382.4,365.4 382.9,366.3 383.4,365.4 383.9,366.2 384.4,366.1 384.9,367.9 385.4,367.5 385.9,368.0 386.4,369.5 386.9,369.9 387.4,370.4 387.9,369.6 388.4,369.6 388.9,370.2 389.4,370.0 389.9,369.7 390.4,369.9 390.9,369.6 391.4,370.1 391.9,371.7 392.4,372.3 392.9,371.8 393.4,371.4 393.9,371.1 394.4,370.5 394.9,370.8 395.4,372.1 395.9,372.8 396.4,371.9 396.9,372.7 397.4,373.0 397.9,373.0 398.4,373.0 398.9,373.2 399.4,372.5 399.9,373.1 400.4,372.4 400.9,372.7 401.4,373.5 401.9,373.6 402.4,372.8 402.9,374.1 403.4,373.8 403.9,373.7 404.4,372.4 404.9,373.2 405.4,372.9 405.9,373.8 406.4,373.6 406.9,374.4 407.4,374.3 407.9,374.6 408.4,373.8 408.9,374.2 409.4,374.6 409.9,374.9 410.4,374.0 410.9,374.8 411.4,375.2 411.9,374.9 412.4,375.5 412.9,375.7 413.4,374.8 413.9,374.5 414.4,373.7 414.9,374.9 415.4,375.6 415.9,374.8 416.4,375.0 416.9,375.2 417.4,375.3 417.9,374.1 418.4,375.1 418.9,375.0 419.4,375.1 419.9,374.7 420.4,375.0 420.9,375.4 421.4,375.3 421.9,375.4 422.4,373.9 422.9,373.8 423.4,374.4 423.9,375.1 424.4,374.3 424.9,375.2 425.4,375.3 425.9,374.0 426.4,374.6 426.9,374.3 427.4,373.8 427.9,373.8 428.4,374.3 428.9,374.1 429.4,374.1 429.9,373.7 430.4,374.6 430.9,374.7 431.4,375.2 431.9,375.4 432.4,374.6 432.9,375.9 433.4,374.3 433.9,374.7 434.4,374.5 434.9,374.8 435.4,374.2 435.9,375.7 436.4,375.1 436.9,374.1 437.4,375.2 437.9,374.3 438.4,375.1 438.9,374.8 439.4,375.3 439.9,376.3 440.4,376.3 440.9,375.4 441.4,376.0 441.9,375.8 442.4,375.2 442.9,374.5 443.4,375.3 443.9,375.5 444.4,376.4 444.9,376.7 445.4,376.0 445.9,375.2 446.4,376.2 446.9,374.5 447.4,374.2 447.9,375.2 448.4,375.6 448.9,374.6 449.4,375.4 449.9,376.3 450.4,375.4 450.9,375.2 451.4,374.7 451.9,374.7 452.4,376.3 452.9,375.4 453.4,376.4 453.9,376.6 454.4,376.0 454.9,375.0 455.4,376.4 455.9,375.7 456.4,375.3 456.9,375.0 457.4,376.4 457.9,375.7 458.4,375.0 458.9,375.3 459.4,374.5 459.9,375.4 460.4,375.3 460.9,374.9 461.4,375.9 461.9,376.3 462.4,374.6 462.9,375.3 463.4,374.9 463.9,376.3 464.4,376.3 464.9,375.1 465.4,374.8 465.9,374.5 466.4,376.3 466.9,375.2 467.4,375.6 467.9,375.5 468.4,375.8 468.9,375.8 469.4,376.1 469.9,374.8 470.4,375.9 470.9,375.1 471.4,375.4 471.9,375.1 472.4,374.9 472.9,375.4 473.4,375.4 473.9,375.1 474.4,375.9 474.9,375.8 475.2,374.5" fill="none" stroke="#111" stroke-width="1.50" stroke-linejoin="round" stroke-linecap="round"/>
<polyline points="475.2,374.5 475.4,366.5 475.9,346.7 476.0,343.0 476.4,348.5 476.9,352.5 477.4,354.8 477.9,359.1" fill="none" stroke="#9a9a9a" stroke-width="0.90" stroke-linejoin="round" stroke-linecap="round"/>
<polyline points="477.9,359.1 478.4,361.2 478.9,363.5 479.4,365.5 479.9,366.8 480.4,367.6" fill="none" stroke="#444" stroke-width="1.35" stroke-linejoin="round" stroke-linecap="round"/>
<polyline points="480.4,367.6 480.9,369.4 481.4,369.3 481.9,369.7 482.4,371.2 482.9,370.5 483.4,370.8 483.9,372.3 484.4,371.3 484.9,372.9 485.4,373.2 485.9,372.9 486.4,372.6 486.9,373.7 487.4,374.5 487.9,373.1 488.4,373.5 488.9,373.9 489.4,373.9 489.9,373.6 490.4,373.2 490.9,374.1 491.4,375.0 491.9,373.6 492.4,373.6 492.9,375.0 493.4,375.4 493.9,375.2 494.4,373.8 494.9,375.0 495.4,375.9 495.9,376.3 496.4,375.7 496.9,374.2 497.4,375.5 497.9,374.5 498.4,375.2 498.9,376.1 499.4,375.9 499.9,374.5 500.4,374.5 500.9,375.9 501.4,374.6 501.9,375.3 502.4,375.0 502.9,374.4 503.4,375.3 503.9,374.2 504.4,374.1 504.9,374.7 505.4,374.1 505.9,374.0 506.4,375.1 506.9,375.8 507.4,376.3 507.9,374.8 508.4,375.0 508.9,374.9 509.4,375.4 509.9,375.4 510.4,376.4 510.9,375.4 511.4,374.4 511.9,375.6 512.4,374.7 512.9,375.5 513.4,375.5 513.9,376.4 514.4,375.8 514.9,375.8 515.4,375.0 515.9,375.4 516.4,374.9 516.9,375.8 517.4,375.6 517.9,374.7 518.4,374.6 518.9,374.9 519.4,375.8 519.9,374.9 520.4,375.8 520.9,375.9 521.4,374.7 521.9,375.6 522.4,374.6 522.9,374.4 523.4,375.4 523.9,374.9 524.4,376.1" fill="none" stroke="#111" stroke-width="1.50" stroke-linejoin="round" stroke-linecap="round"/>
<polyline points="524.4,376.1 524.9,364.7 525.2,358.0 525.4,359.8" fill="none" stroke="#9a9a9a" stroke-width="0.90" stroke-linejoin="round" stroke-linecap="round"/>
<polyline points="525.4,359.8 525.9,360.9 526.4,364.2 526.9,364.8 527.4,366.1 527.9,369.0" fill="none" stroke="#444" stroke-width="1.35" stroke-linejoin="round" stroke-linecap="round"/>
<polyline points="527.9,369.0 528.4,369.9 528.9,369.7 529.4,369.8 529.9,372.1 530.4,372.4 530.9,373.1 531.4,372.1 531.9,373.0 532.4,372.9 532.9,372.7 533.4,373.0 533.9,373.8 534.4,373.6 534.9,373.7 535.2,373.2" fill="none" stroke="#111" stroke-width="1.50" stroke-linejoin="round" stroke-linecap="round"/>
<polyline points="535.2,373.2 535.4,373.5 535.9,370.8 536.0,369.8 536.4,370.8" fill="none" stroke="#444" stroke-width="1.35" stroke-linejoin="round" stroke-linecap="round"/>
<polyline points="536.4,370.8 536.9,372.4 537.4,372.6 537.9,373.2 538.4,373.6 538.9,374.3 539.4,373.9 539.9,373.3 540.4,373.1 540.9,373.5 541.4,373.3 541.9,375.2 542.4,375.0 542.9,375.5 543.4,374.1 543.9,374.7 544.4,375.9 544.9,375.6 545.4,375.2 545.9,375.1 546.4,374.3 546.9,374.2 547.4,374.2 547.9,374.7 548.4,374.9 548.9,376.0 549.4,374.8 549.9,374.6 550.4,374.6 550.9,374.4 551.4,374.6 551.9,374.6 552.4,375.1 552.9,374.3 553.4,376.0 553.9,375.3 554.4,376.4 554.9,376.1 555.4,376.0 555.9,375.6 556.1,376.5" fill="none" stroke="#111" stroke-width="1.50" stroke-linejoin="round" stroke-linecap="round"/>
<polyline points="556.1,376.5 556.4,373.0 556.9,370.4" fill="none" stroke="#9a9a9a" stroke-width="0.90" stroke-linejoin="round" stroke-linecap="round"/>
<polyline points="556.9,370.4 557.4,371.1" fill="none" stroke="#444" stroke-width="1.35" stroke-linejoin="round" stroke-linecap="round"/>
<polyline points="557.4,371.1 557.9,372.7 558.4,373.7 558.9,373.0 559.4,373.2 559.9,373.0 560.4,373.6 560.9,373.5 561.4,374.3 561.9,375.9 562.4,375.1 562.9,374.8 563.4,375.1 563.9,374.8 564.4,375.7 564.9,376.0 565.4,374.8 565.9,374.7 566.4,375.6 566.9,376.5 567.4,376.1 567.9,375.5 568.4,376.5 568.9,374.7 569.4,374.3 569.9,375.7" fill="none" stroke="#111" stroke-width="1.50" stroke-linejoin="round" stroke-linecap="round"/>
<polyline points="569.9,375.7 570.4,371.7 570.7,369.6" fill="none" stroke="#9a9a9a" stroke-width="0.90" stroke-linejoin="round" stroke-linecap="round"/>
<polyline points="570.7,369.6 570.9,369.9 571.4,372.4" fill="none" stroke="#444" stroke-width="1.35" stroke-linejoin="round" stroke-linecap="round"/>
<polyline points="571.4,372.4 571.9,372.6 572.4,372.7 572.9,372.5 573.4,372.7 573.9,374.8 574.4,374.7 574.9,375.8 575.4,374.2 575.9,374.3 576.4,373.9 576.9,374.6 577.4,374.1 577.9,374.4 578.4,374.9 578.9,374.8 579.4,374.2 579.9,374.0 580.4,376.1 580.9,374.9 581.4,375.3 581.9,375.2 582.4,375.5 582.9,374.6 583.4,374.8 583.9,374.4 584.4,375.3 584.9,376.4 585.4,376.0 585.9,376.4 586.4,375.1 586.9,374.3 587.4,375.2 587.9,375.4 588.4,375.6 588.9,375.3 589.4,375.7 589.9,376.1 590.4,376.6 590.9,375.4 591.4,375.4 591.9,376.2 592.4,375.1 592.9,374.5 593.4,374.8 593.9,374.4 594.4,375.8 594.9,376.3 595.4,375.3 595.9,374.6 596.4,374.3 596.9,374.6 597.4,374.3 597.9,375.0 598.4,375.5 598.9,374.9 599.4,374.3 599.9,375.6 600.4,374.5 600.9,374.5 601.4,374.7 601.9,375.0 602.4,374.4" fill="none" stroke="#111" stroke-width="1.50" stroke-linejoin="round" stroke-linecap="round"/>
<polyline points="602.4,374.4 602.9,357.2 603.2,347.0 603.4,349.5 603.9,353.9 604.4,358.2" fill="none" stroke="#9a9a9a" stroke-width="0.90" stroke-linejoin="round" stroke-linecap="round"/>
<polyline points="604.4,358.2 604.9,360.9 605.4,363.5 605.9,365.1 606.4,366.3 606.9,368.4 607.4,369.4" fill="none" stroke="#444" stroke-width="1.35" stroke-linejoin="round" stroke-linecap="round"/>
<polyline points="607.4,369.4 607.9,370.9 608.4,371.4 608.9,371.9 609.4,371.4 609.9,372.8" fill="none" stroke="#111" stroke-width="1.50" stroke-linejoin="round" stroke-linecap="round"/>
<polyline points="609.9,372.8 610.4,357.1 610.7,348.2 610.9,348.5 611.4,352.1" fill="none" stroke="#9a9a9a" stroke-width="0.90" stroke-linejoin="round" stroke-linecap="round"/>
<polyline points="611.4,352.1 611.9,355.2 612.4,358.7 612.9,360.2 613.4,361.3 613.9,364.2 614.4,365.4 614.9,365.3" fill="none" stroke="#444" stroke-width="1.35" stroke-linejoin="round" stroke-linecap="round"/>
<polyline points="614.9,365.3 615.4,366.0 615.9,366.9 616.4,368.1 616.9,370.0 617.4,371.2 617.9,371.1 618.4,370.5 618.9,371.0 619.4,371.2 619.9,371.4 620.4,371.0 620.9,372.3 621.4,373.3 621.9,373.6 622.4,372.4 622.9,373.1 623.4,372.6 623.9,373.8 624.4,373.6 624.9,374.8 625.4,374.9 625.9,373.4 626.4,373.5 626.9,375.0 627.4,374.4 627.9,374.3 628.4,374.3 628.9,375.1 629.4,375.7" fill="none" stroke="#111" stroke-width="1.50" stroke-linejoin="round" stroke-linecap="round"/>
<line x1="325" y1="438.5" x2="630" y2="438.5" stroke="#c4c4c4" stroke-width="0.8" stroke-dasharray="3,3"/>
<polyline points="325.4,437.9 325.9,437.7 326.4,437.1 326.9,438.6 327.4,437.1 327.9,437.7 328.4,438.8 328.9,437.3 329.4,437.9 329.9,438.2 330.4,437.0 330.9,437.4 331.4,438.3 331.9,438.0 332.4,438.5 332.9,437.4 333.4,437.2 333.9,436.9 334.4,437.7 334.9,438.9 335.4,438.5 335.9,438.8 336.4,438.0 336.9,438.5 337.4,437.3 337.9,437.3 338.4,438.2 338.9,438.6 339.4,438.0 339.9,437.1 340.4,437.2 340.9,437.1 341.4,437.2 341.9,438.5 342.4,437.5 342.9,438.7 343.4,439.1 343.9,437.3 344.4,437.5 344.9,437.8 345.4,436.9 345.9,437.5 346.4,438.8 346.9,437.4 347.4,438.0 347.9,437.2 348.4,437.9 348.9,438.9 349.4,437.6 349.9,436.8 350.4,436.7 350.9,437.7 351.4,436.8 351.9,436.7 352.4,437.6 352.5,438.8" fill="none" stroke="#111" stroke-width="1.50" stroke-linejoin="round" stroke-linecap="round"/>
<polyline points="352.5,438.8 352.9,432.6 353.3,427.0 353.4,428.1 353.9,430.5" fill="none" stroke="#9a9a9a" stroke-width="0.90" stroke-linejoin="round" stroke-linecap="round"/>
<polyline points="353.9,430.5 354.4,433.5 354.9,434.3" fill="none" stroke="#444" stroke-width="1.35" stroke-linejoin="round" stroke-linecap="round"/>
<polyline points="354.9,434.3 355.4,436.1 355.9,437.8 356.2,436.3" fill="none" stroke="#111" stroke-width="1.50" stroke-linejoin="round" stroke-linecap="round"/>
<polyline points="356.2,436.3 356.4,435.3 356.9,431.5 357.0,430.5" fill="none" stroke="#9a9a9a" stroke-width="0.90" stroke-linejoin="round" stroke-linecap="round"/>
<polyline points="357.0,430.5 357.4,431.2 357.9,434.2" fill="none" stroke="#444" stroke-width="1.35" stroke-linejoin="round" stroke-linecap="round"/>
<polyline points="357.9,434.2 358.4,435.7 358.9,434.8 359.4,436.2 359.9,437.4 360.4,436.4 360.9,437.2 361.4,436.2 361.9,436.8 362.4,437.7 362.9,437.9 363.4,438.4 363.9,437.1 364.4,437.3 364.9,438.5 365.4,438.3 365.9,437.9 366.4,437.7 366.9,439.0 367.4,438.4 367.9,437.0 368.4,438.4 368.9,437.7 369.4,437.8 369.9,437.3 370.4,437.7 370.9,437.5 371.4,436.9 371.9,438.0 372.4,437.1 372.9,438.4 373.4,437.0 373.9,438.3 374.4,438.8 374.9,438.2 375.4,438.5 375.9,437.6 376.4,438.4 376.9,438.0 377.4,437.4 377.9,438.9 378.4,438.0 378.9,437.7 379.4,438.7 379.9,437.9 380.4,438.4 380.9,437.4 381.4,438.6 381.9,437.6 382.4,436.9 382.9,438.7 383.4,437.5 383.9,438.8 384.4,439.3 384.9,438.6 385.2,437.1" fill="none" stroke="#111" stroke-width="1.50" stroke-linejoin="round" stroke-linecap="round"/>
<polyline points="385.2,437.1 385.4,432.0 385.9,420.3 386.0,419.0 386.4,424.5 386.9,430.1 387.4,432.1" fill="none" stroke="#9a9a9a" stroke-width="0.90" stroke-linejoin="round" stroke-linecap="round"/>
<polyline points="387.4,432.1 387.9,433.3 388.2,434.9" fill="none" stroke="#444" stroke-width="1.35" stroke-linejoin="round" stroke-linecap="round"/>
<polyline points="388.2,434.9 388.4,422.2 388.9,391.9 389.0,387.0 389.4,394.5 389.9,400.5 390.4,406.9 390.9,412.4 391.4,416.6 391.9,419.1" fill="none" stroke="#9a9a9a" stroke-width="0.90" stroke-linejoin="round" stroke-linecap="round"/>
<polyline points="391.9,419.1 392.4,422.6 392.9,423.4 393.4,426.1 393.9,428.0 394.4,429.6" fill="none" stroke="#444" stroke-width="1.35" stroke-linejoin="round" stroke-linecap="round"/>
<polyline points="394.4,429.6 394.9,429.9 395.4,429.8 395.9,430.1 396.4,431.7 396.9,431.8 397.4,433.2 397.9,432.7 398.4,434.4 398.9,433.9 399.4,433.5 399.9,433.9 400.4,434.8 400.9,435.5 401.4,435.4 401.9,435.1 402.4,435.8 402.9,437.1 403.4,436.7 403.9,437.6 404.4,435.9 404.9,437.6 405.4,437.9 405.9,437.3 406.4,437.2 406.9,437.2 407.4,438.1 407.9,436.5 408.4,437.4 408.9,437.4 409.4,436.9 409.9,437.8 410.4,438.1 410.9,436.8 411.4,437.8 411.9,437.5 412.4,437.6 412.9,437.9 413.4,436.7 413.9,437.6 414.4,437.4 414.9,438.5 415.4,437.4 415.9,438.4 416.4,438.5 416.9,438.3 417.4,438.8 417.9,437.1 418.4,437.8 418.9,438.1 419.4,438.3 419.9,437.8 420.4,436.9 420.9,436.9 421.4,437.8 421.9,437.2 422.4,436.7 422.9,437.2 423.4,437.7 423.9,437.9 424.4,436.9 424.9,438.2 425.4,437.7 425.9,438.5 426.4,437.0 426.9,438.7 427.4,438.4 427.9,439.2 428.4,439.4 428.9,439.1 429.4,437.4 429.9,437.5 430.4,437.2 430.9,438.4 431.4,437.4 431.9,437.2 432.4,436.9 432.9,436.8 433.4,438.6 433.9,439.2 434.4,438.1 434.9,438.6 435.4,438.1 435.9,438.1 436.4,437.7 436.9,438.2 437.4,437.5 437.9,437.3 438.4,437.8 438.9,437.3 439.4,437.6 439.9,438.9 440.4,437.2 440.9,436.9 441.4,438.3 441.9,437.1 442.4,437.2 442.9,438.5 443.4,438.4 443.9,437.5 444.4,436.9 444.9,437.2 445.4,437.3 445.9,438.5 446.4,439.2 446.9,439.0 447.4,439.2 447.9,439.3 448.4,439.2 448.9,439.3 449.4,439.4 449.9,437.5 450.4,437.4 450.6,437.3" fill="none" stroke="#111" stroke-width="1.50" stroke-linejoin="round" stroke-linecap="round"/>
<polyline points="450.6,437.3 450.9,432.4 451.4,423.0" fill="none" stroke="#9a9a9a" stroke-width="0.90" stroke-linejoin="round" stroke-linecap="round"/>
<polyline points="451.4,423.0 451.9,425.4 452.4,428.6 452.9,429.7 453.4,430.6 453.9,431.8" fill="none" stroke="#444" stroke-width="1.35" stroke-linejoin="round" stroke-linecap="round"/>
<polyline points="453.9,431.8 454.4,433.2 454.9,434.5 455.4,435.2 455.9,435.4 456.4,435.2 456.9,435.9 457.4,436.1 457.9,436.0 458.4,436.9 458.9,436.5 459.4,437.6 459.9,437.9 460.4,436.9 460.9,437.7 461.4,437.4 461.9,437.6 462.4,438.0 462.9,438.5 463.4,438.9 463.9,438.7 464.4,437.5 464.9,437.9 465.4,437.6 465.9,436.8 466.4,437.7 466.9,437.8 467.4,438.8 467.9,437.8 468.4,438.7 468.9,438.2 469.4,437.2 469.9,438.2 470.4,437.6 470.9,437.9 471.4,437.0 471.9,436.6 472.4,438.5 472.9,437.1 473.4,437.0 473.9,436.9 474.4,436.8 474.9,438.4 475.4,439.2 475.9,438.7 476.4,438.0 476.9,438.9 477.4,438.3 477.5,437.3" fill="none" stroke="#111" stroke-width="1.50" stroke-linejoin="round" stroke-linecap="round"/>
<polyline points="477.5,437.3 477.9,414.2 478.3,390.0 478.4,391.1 478.9,398.5 479.4,404.8 479.9,409.6 480.4,414.7 480.9,419.1" fill="none" stroke="#9a9a9a" stroke-width="0.90" stroke-linejoin="round" stroke-linecap="round"/>
<polyline points="480.9,419.1 481.4,421.7 481.9,422.9 482.4,426.1 482.9,426.7 483.4,428.8 483.9,431.1" fill="none" stroke="#444" stroke-width="1.35" stroke-linejoin="round" stroke-linecap="round"/>
<polyline points="483.9,431.1 484.4,432.1 484.9,433.5 485.4,434.0 485.9,433.5 486.4,433.5 486.9,434.4 487.4,435.5 487.9,435.0 488.4,435.3 488.9,436.5 489.4,436.1 489.9,436.6 490.4,436.8 490.9,437.8 491.4,436.2 491.9,436.1 492.4,437.5 492.9,437.7 493.4,436.5 493.9,436.3 494.4,436.5 494.9,437.3 495.4,438.4 495.9,437.2 496.4,436.8 496.9,437.8 497.4,437.6 497.9,438.4 498.4,439.1 498.9,439.1 499.4,438.7 499.9,438.1 500.4,436.9 500.9,438.2 501.4,437.7 501.9,437.7 502.4,438.1 502.9,439.0 503.4,438.3 503.9,439.0 504.4,439.3 504.9,437.4 505.4,437.4 505.9,438.7 506.4,438.7 506.9,439.2 507.4,437.6 507.9,437.9 508.4,438.9 508.9,438.3 509.4,438.5 509.9,439.2 510.4,437.6 510.9,436.9 511.4,438.4 511.9,438.3 512.4,437.4 512.9,438.5 513.4,437.7 513.9,437.1 514.4,437.3 514.9,436.7 515.4,437.4 515.9,438.4 516.4,438.0 516.9,439.0 517.4,437.3 517.9,437.0 518.4,436.9 518.9,437.8 519.4,437.3 519.9,438.2 520.4,438.1 520.9,438.2 521.4,438.8 521.9,438.9 522.4,439.2 522.9,437.6 523.4,437.6 523.9,438.9 524.4,438.0 524.9,437.5 525.4,437.8 525.7,437.2" fill="none" stroke="#111" stroke-width="1.50" stroke-linejoin="round" stroke-linecap="round"/>
<polyline points="525.7,437.2 525.9,436.3 526.4,430.6 526.5,429.0" fill="none" stroke="#9a9a9a" stroke-width="0.90" stroke-linejoin="round" stroke-linecap="round"/>
<polyline points="526.5,429.0 526.9,431.4 527.4,432.5 527.9,433.1" fill="none" stroke="#444" stroke-width="1.35" stroke-linejoin="round" stroke-linecap="round"/>
<polyline points="527.9,433.1 528.4,434.6 528.9,436.3 529.4,435.9 529.9,435.3 530.4,435.7 530.9,435.7 531.4,436.9 531.9,436.9 532.4,438.2 532.9,437.2 533.4,436.5 533.9,437.3 534.4,436.8 534.9,437.1 535.4,437.1 535.9,436.9 536.4,437.9 536.9,438.9 537.4,438.0 537.9,438.3 538.4,437.7 538.9,438.8 539.4,438.4 539.9,437.0 540.4,438.2 540.9,437.4 541.4,436.8 541.9,436.6 542.4,438.3 542.9,438.6 543.1,437.9" fill="none" stroke="#111" stroke-width="1.50" stroke-linejoin="round" stroke-linecap="round"/>
<polyline points="543.1,437.9 543.4,423.4 543.9,398.8 544.4,404.3 544.9,410.6 545.4,415.2 545.9,419.5 546.4,420.7" fill="none" stroke="#9a9a9a" stroke-width="0.90" stroke-linejoin="round" stroke-linecap="round"/>
<polyline points="546.4,420.7 546.9,423.9 547.4,426.1 547.9,428.6 548.4,429.2 548.9,430.9" fill="none" stroke="#444" stroke-width="1.35" stroke-linejoin="round" stroke-linecap="round"/>
<polyline points="548.9,430.9 549.4,432.6 549.9,432.5 550.4,433.3 550.9,434.8 551.4,433.7 551.9,435.7 552.4,435.1 552.9,435.5 553.4,435.4 553.9,436.7 554.4,436.6 554.9,437.2 555.4,436.0 555.9,437.5 556.4,437.9 556.9,437.8 557.4,436.8 557.9,436.6 558.4,437.0 558.9,436.3 559.4,438.2 559.9,437.5 560.4,438.6 560.9,437.2 561.4,437.9 561.9,438.4 562.4,438.2 562.9,437.7 563.4,436.7 563.9,437.3 564.4,437.4 564.6,438.7" fill="none" stroke="#111" stroke-width="1.50" stroke-linejoin="round" stroke-linecap="round"/>
<polyline points="564.6,438.7 564.9,433.4 565.4,422.5 565.9,427.4" fill="none" stroke="#9a9a9a" stroke-width="0.90" stroke-linejoin="round" stroke-linecap="round"/>
<polyline points="565.9,427.4 566.4,428.3 566.9,429.5 567.4,431.4 567.9,432.2" fill="none" stroke="#444" stroke-width="1.35" stroke-linejoin="round" stroke-linecap="round"/>
<polyline points="567.9,432.2 568.4,433.2 568.9,435.0 569.4,435.1 569.9,436.3 570.4,436.4 570.9,436.4 571.4,438.1 571.9,436.9 572.4,438.2 572.9,437.9 573.4,438.1 573.9,437.1 574.4,438.1 574.9,438.8 575.4,437.5 575.9,437.7 576.4,438.2 576.9,438.0 577.4,438.5 577.9,438.4 578.4,437.7 578.9,438.3 579.4,438.7 579.9,438.1 580.4,438.2 580.9,438.4 581.4,438.0 581.9,437.1 582.4,437.5 582.9,438.5 583.4,438.6 583.9,437.2 584.4,437.7 584.9,438.1 585.4,438.1 585.9,437.2 586.4,438.1 586.9,438.5 587.4,438.2 587.9,439.0 588.4,438.5 588.9,437.1 589.4,437.2 589.9,438.2 590.4,437.1 590.9,438.8 591.4,438.7 591.9,438.8 592.4,437.5 592.9,436.7 593.4,438.5 593.9,438.2 594.4,437.9 594.9,438.0 595.4,438.6 595.9,437.9 596.4,438.6 596.9,437.4 597.4,438.9 597.9,438.7 598.4,437.8 598.9,437.9 599.4,438.8 599.9,437.9 600.4,438.4 600.9,439.0 601.4,439.3 601.9,437.9 602.4,438.6 602.9,438.4 603.4,438.8 603.9,437.3 604.4,437.6 604.9,437.8 605.4,438.6 605.9,438.1 606.4,437.0 606.9,437.0 607.4,438.5 607.9,439.0" fill="none" stroke="#111" stroke-width="1.50" stroke-linejoin="round" stroke-linecap="round"/>
<polyline points="607.9,439.0 608.4,430.3 608.7,425.0" fill="none" stroke="#9a9a9a" stroke-width="0.90" stroke-linejoin="round" stroke-linecap="round"/>
<polyline points="608.7,425.0 608.9,426.4 609.4,429.3 609.9,430.0 610.4,431.6 610.9,432.4" fill="none" stroke="#444" stroke-width="1.35" stroke-linejoin="round" stroke-linecap="round"/>
<polyline points="610.9,432.4 611.4,432.7 611.9,434.8 612.4,434.5 612.9,434.6 613.4,436.7 613.9,435.7 614.4,437.1 614.9,437.7 615.4,436.8 615.9,436.9 616.4,436.6 616.9,437.7 617.4,438.7 617.9,438.5 618.4,437.9 618.9,437.9 619.4,437.6 619.9,438.2 620.4,437.4 620.9,437.2 621.4,438.1 621.9,437.4 622.4,438.8 622.9,438.7 623.4,437.4 623.9,436.7 624.4,437.8 624.9,437.1 625.4,437.7 625.9,438.1 626.4,438.7 626.9,437.9 627.4,438.1 627.9,438.7 628.4,437.4" fill="none" stroke="#111" stroke-width="1.50" stroke-linejoin="round" stroke-linecap="round"/>
</svg>
</body></html>
